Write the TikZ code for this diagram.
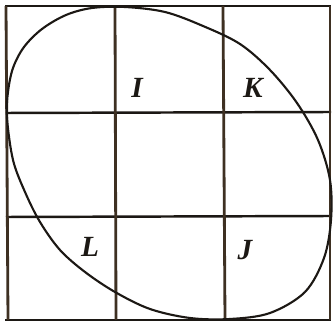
\documentclass[tikz,border=0pt]{standalone}
\usepackage{fontspec}
\setmainfont{Liberation Serif}
\usepackage{tikz}
\definecolor{GridInk}{HTML}{1C1814}
\definecolor{PostInk}{HTML}{3E3022}

\begin{document}
\begin{tikzpicture}[x=0.3mm,y=-0.3mm]
\tikzset{cell label/.style={inner sep=0pt,font=\fontsize{25}{30}\selectfont\bfseries\itshape,text=GridInk}}
\path[use as bounding box] (0,0) rectangle (334,322);
\fill[white] (0,0) rectangle (334,322);
% rows
\draw[GridInk,line width=2.1pt] (5,6) -- (331,6);
\draw[GridInk,line width=2.1pt] (6,113) -- (331,112);
\draw[GridInk,line width=2.1pt] (6,217) -- (331,216);
\draw[GridInk,line width=2.1pt] (5,320) -- (331,320);
% columns
\draw[PostInk,line width=2.4pt] (6,6) -- (8,320);
\draw[PostInk,line width=2.4pt] (115,6) -- (116,320);
\draw[PostInk,line width=2.4pt] (223,6) -- (225,320);
\draw[PostInk,line width=2.0pt] (330,6) -- (330,320);
% oval
\draw[GridInk,line width=1.8pt] plot[smooth cycle,tension=0.55] coordinates {
  (7,118) (8,92) (13,68) (24,47) (42,29) (66,15) (92,8) (125,7) (165,12)
  (203,26) (240,44) (270,70) (297,103) (318,140) (330,180) (331,220)
  (324,258) (305,292) (270,313) (230,319) (190,318) (150,309) (115,292)
  (85,272) (60,250) (40,222) (25,192) (13,160)};
% labels
\node[cell label] (I) at (137,88) {I};
\node[cell label] (K) at (253,88) {K};
\node[cell label] (L) at (90,247) {L};
\node[cell label] (J) at (245,250) {J};
\end{tikzpicture}
\end{document}
